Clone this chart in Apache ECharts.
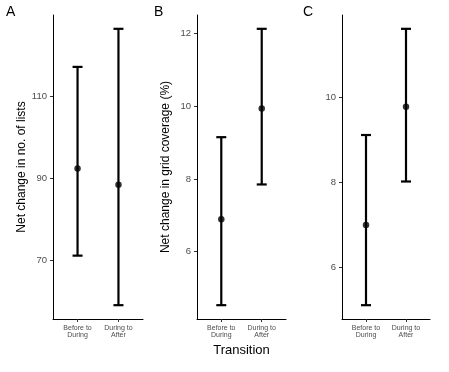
<!DOCTYPE html>
<html>
<head>
<meta charset="utf-8">
<script src="https://cdn.jsdelivr.net/npm/echarts@6/dist/echarts.min.js"></script>
<style>html,body{margin:0;padding:0;background:#fff}#c{width:449px;height:372px}</style>
</head>
<body>
<div id="c"></div>
<script>
const categories = ['Before to\nDuring', 'During to\nAfter'];
const catPos = [1, 2];

const listsMean = [92.4, 88.4];
const listsLow = [71.1, 59.0];
const listsHigh = [117.2, 126.5];
const listsTicks = [70, 90, 110];

const gridMean = [6.89, 9.94];
const gridLow = [4.53, 7.85];
const gridHigh = [9.15, 12.13];
const gridTicks = [6, 8, 10, 12];

const cMean = [7.0, 9.77];
const cLow = [5.12, 8.02];
const cHigh = [9.11, 11.6];
const cTicks = [6, 8, 10];

const panelLetters = ['A', 'B', 'C'];
const yTitles = ['Net change in no. of lists', 'Net change in grid coverage (%)', ''];
const xTitle = 'Transition';

const FONT = 'Liberation Sans, Arial, sans-serif';
const panels = [
  {mean: listsMean, low: listsLow, high: listsHigh, ticks: listsTicks},
  {mean: gridMean, low: gridLow, high: gridHigh, ticks: gridTicks},
  {mean: cMean, low: cLow, high: cHigh, ticks: cTicks}
];
const gridBoxes = [
  {left: 53, width: 90},
  {left: 197, width: 89},
  {left: 342, width: 88}
];

function range(p) {
  const lo = Math.min(...p.low), hi = Math.max(...p.high);
  const pad = (hi - lo) * 0.05;
  return [lo - pad, hi + pad];
}

const grid = [], xAxis = [], yAxis = [], series = [];
panels.forEach((p, i) => {
  const [mn, mx] = range(p);
  grid.push({left: gridBoxes[i].left, width: gridBoxes[i].width, top: 15, height: 304});
  xAxis.push({
    type: 'value', gridIndex: i, min: 0.4, max: 2.6,
    name: i === 1 ? xTitle : '', nameLocation: 'middle', nameGap: 21,
    nameTextStyle: {fontFamily: FONT, fontSize: 13, color: '#000'},
    splitLine: {show: false},
    axisLine: {show: true, lineStyle: {color: '#000', width: 1}},
    axisTick: {show: true, customValues: catPos, length: 3, lineStyle: {color: '#333'}},
    axisLabel: {customValues: catPos, margin: 5, fontFamily: FONT, fontSize: 7, lineHeight: 7.5, color: '#4d4d4d',
      formatter: v => categories[catPos.indexOf(Math.round(v))] || ''}
  });
  yAxis.push({
    type: 'value', gridIndex: i, min: mn, max: mx,
    name: yTitles[i], nameLocation: 'middle', nameGap: 25,
    nameTextStyle: {fontFamily: FONT, fontSize: 12, color: '#000'},
    splitLine: {show: false},
    axisLine: {show: true, lineStyle: {color: '#000', width: 1}},
    axisTick: {show: true, customValues: p.ticks, length: 3, lineStyle: {color: '#333'}},
    axisLabel: {customValues: p.ticks, margin: 6, fontFamily: FONT, fontSize: 9.5, color: '#4d4d4d'}
  });
  series.push({
    type: 'custom', xAxisIndex: i, yAxisIndex: i,
    data: catPos.map((x, k) => [x, p.low[k], p.high[k]]),
    renderItem: (params, api) => {
      const x = api.value(0);
      const a = api.coord([x, api.value(1)]);
      const b = api.coord([x, api.value(2)]);
      const w = 5;
      const st = {stroke: '#000', lineWidth: 2.2};
      return {type: 'group', children: [
        {type: 'line', shape: {x1: a[0], y1: a[1], x2: b[0], y2: b[1]}, style: st},
        {type: 'line', shape: {x1: a[0] - w, y1: a[1], x2: a[0] + w, y2: a[1]}, style: st},
        {type: 'line', shape: {x1: b[0] - w, y1: b[1], x2: b[0] + w, y2: b[1]}, style: st}
      ]};
    },
    silent: true, animation: false
  });
  series.push({
    type: 'scatter', xAxisIndex: i, yAxisIndex: i,
    data: catPos.map((x, k) => [x, p.mean[k]]),
    symbolSize: 6.5, itemStyle: {color: '#000'}, z: 5, animation: false
  });
});

const chart = echarts.init(document.getElementById('c'), null, {renderer: 'canvas'});
chart.setOption({
  backgroundColor: '#fff',
  animation: false,
  title: panelLetters.map((t, i) => ({
    text: t, left: [6, 154, 303][i], top: 5, padding: 0,
    textStyle: {fontFamily: FONT, fontSize: 14, fontWeight: 'normal', color: '#000'}
  })),
  grid, xAxis, yAxis, series
});
</script>
</body>
</html>
